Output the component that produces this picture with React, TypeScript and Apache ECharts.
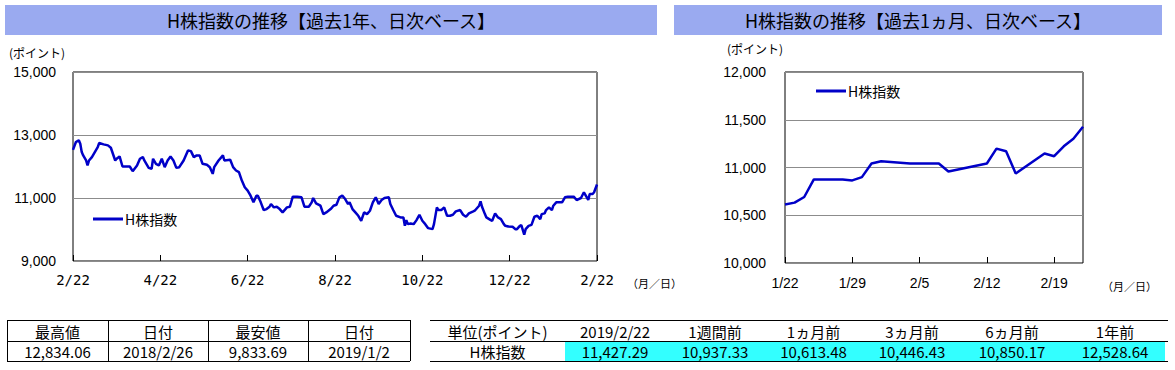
import { useEffect, useRef } from "react";
import * as echarts from "echarts";

// ---- data ----
const seriesName = "H株指数";
const titleYear = "H株指数の推移【過去1年、日次ベース】";
const titleMonth = "H株指数の推移【過去1ヵ月、日次ベース】";
const unitLabel = "(ポイント)";
const dateUnitLabel = "（月／日）";

// past year: day offset from 2018/2/22 (axis spans 0..360)
const yearDays = [0, 2, 4, 5, 6, 7, 9, 10, 11, 13, 15, 17, 18, 21, 24, 26, 29, 30, 32, 34, 37, 39, 41, 44, 46, 48, 49, 52, 54, 55, 57, 59, 61, 63, 65, 67, 69, 71, 73, 76, 79, 81, 83, 85, 87, 89, 92, 94, 96, 97, 100, 102, 103, 104, 108, 110, 112, 114, 116, 118, 120, 122, 124, 126, 127, 129, 131, 133, 135, 136, 138, 140, 142, 144, 147, 149, 151, 154, 157, 159, 162, 164, 165, 167, 170, 172, 174, 177, 179, 181, 183, 185, 187, 189, 190, 192, 194, 196, 198, 200, 202, 204, 206, 208, 210, 212, 214, 217, 218, 220, 222, 225, 227, 228, 229, 230, 232, 234, 236, 238, 240, 242, 244, 247, 248, 250, 251, 253, 255, 257, 259, 261, 263, 266, 268, 270, 272, 275, 276, 279, 280, 281, 283, 284, 287, 288, 290, 292, 294, 296, 297, 299, 302, 304, 305, 307, 308, 310, 311, 313, 315, 317, 319, 321, 322, 324, 325, 327, 329, 330, 332, 336, 338, 340, 344, 346, 349, 351, 353, 354, 355, 357, 358, 360];
const yearValues = [12529, 12777, 12834, 12723, 12457, 12351, 12191, 12032, 12191, 12298, 12457, 12617, 12745, 12702, 12670, 12596, 12191, 12245, 12319, 12000, 12000, 12000, 11851, 12032, 12245, 12298, 12191, 11957, 11926, 12245, 12085, 12032, 12245, 11979, 12191, 12319, 12191, 11957, 11979, 12191, 12511, 12489, 12298, 12351, 12351, 12085, 12053, 11979, 11766, 11979, 12191, 12298, 12351, 12191, 12213, 11979, 11872, 11819, 11553, 11340, 11234, 11075, 10862, 11075, 11075, 10862, 10617, 10649, 10723, 10809, 10702, 10723, 10649, 10543, 10702, 10723, 11043, 11043, 11021, 10723, 10723, 10862, 11000, 10830, 10755, 10489, 10543, 10649, 10755, 10787, 11021, 11075, 10968, 10809, 10862, 10649, 10543, 10436, 10277, 10543, 10489, 10596, 10862, 11021, 10809, 10936, 11000, 11021, 10809, 10620, 10436, 10383, 10383, 10117, 10298, 10170, 10191, 10170, 10298, 10468, 10277, 10170, 10043, 10011, 10170, 10702, 10617, 10617, 10702, 10436, 10436, 10468, 10574, 10617, 10468, 10404, 10511, 10574, 10596, 10755, 10894, 10723, 10489, 10383, 10298, 10277, 10511, 10383, 10330, 10170, 10117, 10096, 10085, 10011, 10011, 10117, 10138, 9834, 10011, 10117, 10149, 10404, 10436, 10330, 10489, 10511, 10617, 10702, 10617, 10755, 10862, 10862, 11021, 11043, 11043, 10936, 11000, 11181, 11021, 10936, 11128, 11128, 11181, 11427];
const yearTickLabels = ["2/22", "4/22", "6/22", "8/22", "10/22", "12/22", "2/22"];

// past month: calendar day offset from 2019/1/22 (axis spans 0..31)
const monthDays = [0, 1, 2, 3, 6, 7, 8, 9, 10, 13, 16, 17, 20, 21, 22, 23, 24, 27, 28, 29, 30, 31];
const monthValues = [10613, 10632, 10691, 10875, 10875, 10865, 10899, 11042, 11066, 11042, 11042, 10958, 11021, 11042, 11198, 11170, 10937, 11146, 11118, 11222, 11302, 11427];
const monthTickLabels = ["1/22", "1/29", "2/5", "2/12", "2/19"];

const extremesHeaders = ["最高値", "日付", "最安値", "日付"];
const extremesValues = ["12,834.06", "2018/2/26", "9,833.69", "2019/1/2"];
const compareHeaders = ["単位(ポイント)", "2019/2/22", "1週間前", "1ヵ月前", "3ヵ月前", "6ヵ月前", "1年前"];
const compareRowLabel = "H株指数";
const compareValues = [11427.29, 10937.33, 10613.48, 10446.43, 10850.17, 12528.64];

// ---- styling ----
const JP = "'Noto Sans CJK JP', sans-serif";
const ARIAL = "'Liberation Sans', Arial, sans-serif";
const LINE_COLOR = "#0000c8";
const BAR_COLOR = "#9aaaf0";

const fmt = (v: number) => v.toLocaleString("en-US", { minimumFractionDigits: 2, maximumFractionDigits: 2 });

function buildGraphics() {
  const g: any[] = [];
  // title bars
  g.push({ type: "rect", shape: { x: 5, y: 5, width: 652, height: 30 }, style: { fill: BAR_COLOR } });
  g.push({ type: "text", x: 331, y: 20, style: { text: titleYear, fontFamily: JP, fontSize: 18, fill: "#000", align: "center", verticalAlign: "middle" } });
  g.push({ type: "rect", shape: { x: 674, y: 5, width: 488, height: 30 }, style: { fill: BAR_COLOR } });
  g.push({ type: "text", x: 918, y: 20, style: { text: titleMonth, fontFamily: JP, fontSize: 18, fill: "#000", align: "center", verticalAlign: "middle" } });
  // unit labels
  g.push({ type: "text", x: 9, y: 52, style: { text: unitLabel, fontFamily: JP, fontSize: 12, fill: "#000", verticalAlign: "middle" } });
  g.push({ type: "text", x: 727, y: 48, style: { text: unitLabel, fontFamily: JP, fontSize: 12, fill: "#000", verticalAlign: "middle" } });
  g.push({ type: "text", x: 627, y: 283, style: { text: dateUnitLabel, fontFamily: JP, fontSize: 11, fill: "#000", verticalAlign: "middle" } });
  g.push({ type: "text", x: 1102, y: 286, style: { text: dateUnitLabel, fontFamily: JP, fontSize: 11, fill: "#000", verticalAlign: "middle" } });

  // left table
  const lEdges = [7, 108, 208, 308, 410];
  const rows = [320, 341, 361];
  rows.forEach((y) => g.push({ type: "line", shape: { x1: lEdges[0], y1: y + 0.5, x2: lEdges[lEdges.length - 1], y2: y + 0.5 }, style: { stroke: "#000", lineWidth: 1 } }));
  lEdges.forEach((x) => g.push({ type: "line", shape: { x1: x + 0.5, y1: rows[0], x2: x + 0.5, y2: rows[2] }, style: { stroke: "#000", lineWidth: 1 } }));
  extremesHeaders.forEach((t, i) => {
    const cx = (lEdges[i] + lEdges[i + 1]) / 2;
    g.push({ type: "text", x: cx, y: 331, style: { text: t, fontFamily: JP, fontSize: 15, lineHeight: 18, fill: "#000", align: "center", verticalAlign: "middle" } });
    g.push({ type: "text", x: cx, y: 351.5, style: { text: extremesValues[i], fontFamily: JP, fontSize: 15, lineHeight: 18, fill: "#000", align: "center", verticalAlign: "middle" } });
  });

  // right table
  const rEdges = [430, 565, 665, 765, 862, 962, 1062, 1168];
  g.push({ type: "rect", shape: { x: rEdges[1], y: 342, width: 1165 - rEdges[1], height: 19 }, style: { fill: "#33ffff" } });
  rows.forEach((y) => g.push({ type: "line", shape: { x1: rEdges[0], y1: y + 0.5, x2: rEdges[rEdges.length - 1], y2: y + 0.5 }, style: { stroke: "#000", lineWidth: 1 } }));
  compareHeaders.forEach((t, i) => {
    const cx = (rEdges[i] + rEdges[i + 1]) / 2;
    g.push({ type: "text", x: cx, y: 331, style: { text: t, fontFamily: JP, fontSize: 15, lineHeight: 18, fill: "#000", align: "center", verticalAlign: "middle" } });
    const v = i === 0 ? compareRowLabel : fmt(compareValues[i - 1]);
    g.push({ type: "text", x: cx, y: 351.5, style: { text: v, fontFamily: JP, fontSize: 15, lineHeight: 18, fill: "#000", align: "center", verticalAlign: "middle" } });
  });
  return g;
}

export default function App() {
  const ref = useRef<HTMLDivElement>(null);
  useEffect(() => {
    if (!ref.current) return;
    const chart = echarts.init(ref.current, null, { renderer: "svg" });
    const commonY = {
      type: "value",
      axisLine: { show: false },
      axisTick: { show: false },
      splitLine: { show: true, lineStyle: { color: "#8c8c8c", width: 1 } },
    };
    const tickFmt = (labels: string[], step: number) => (v: number) =>
      Math.abs(v / step - Math.round(v / step)) < 1e-6 ? labels[Math.round(v / step)] ?? "" : "";
    const option: any = {
      animation: false,
      backgroundColor: "#fff",
      grid: [
        { left: 73, top: 72, width: 524, height: 189, show: true, borderColor: "#000", borderWidth: 1, backgroundColor: "transparent" },
        { left: 785, top: 72, width: 298, height: 191, show: true, borderColor: "#000", borderWidth: 1, backgroundColor: "transparent" },
      ],
      xAxis: [
        {
          type: "value", gridIndex: 0, min: 0, max: 360, interval: 60,
          axisLine: { show: false }, splitLine: { show: false },
          axisTick: { show: true, inside: true, length: 6, lineStyle: { color: "#000" } },
          axisLabel: { formatter: tickFmt(yearTickLabels, 60), margin: 12, color: "#000", fontFamily: "'DejaVu Sans Mono', monospace", fontSize: 14 },
        },
        {
          type: "value", gridIndex: 1, min: 0, max: 31, interval: 7,
          axisLine: { show: false }, splitLine: { show: false },
          axisTick: { show: true, inside: true, length: 6, lineStyle: { color: "#000" } },
          axisLabel: { formatter: tickFmt(monthTickLabels, 7), showMaxLabel: false, margin: 13, color: "#000", fontFamily: ARIAL, fontSize: 14 },
        },
      ],
      yAxis: [
        { ...commonY, gridIndex: 0, min: 9000, max: 15000, interval: 2000, axisLabel: { formatter: (v: number) => v.toLocaleString("en-US"), margin: 17, color: "#000", fontFamily: ARIAL, fontSize: 14 } },
        { ...commonY, gridIndex: 1, min: 10000, max: 12000, interval: 500, axisLabel: { formatter: (v: number) => v.toLocaleString("en-US"), margin: 19, color: "#000", fontFamily: ARIAL, fontSize: 14 } },
      ],
      legend: [
        { data: [seriesName], left: 93, top: 212, padding: 0, icon: "rect", itemWidth: 30, itemHeight: 3, selectedMode: false, textStyle: { fontFamily: JP, fontSize: 14, color: "#000", padding: [0, 0, 0, -3] } },
        { data: [seriesName], left: 816, top: 84, padding: 0, icon: "rect", itemWidth: 30, itemHeight: 3, selectedMode: false, textStyle: { fontFamily: JP, fontSize: 14, color: "#000", padding: [0, 0, 0, -3] } },
      ],
      series: [
        {
          name: seriesName, type: "line", xAxisIndex: 0, yAxisIndex: 0, showSymbol: false,
          data: yearDays.map((d, i) => [d, yearValues[i]]),
          lineStyle: { color: LINE_COLOR, width: 2.5 }, itemStyle: { color: LINE_COLOR },
        },
        {
          name: seriesName, type: "line", xAxisIndex: 1, yAxisIndex: 1, showSymbol: false,
          data: monthDays.map((d, i) => [d, monthValues[i]]),
          lineStyle: { color: LINE_COLOR, width: 2.5 }, itemStyle: { color: LINE_COLOR },
        },
      ],
      graphic: buildGraphics(),
    };
    chart.setOption(option);
    return () => chart.dispose();
  }, []);
  return <div ref={ref} style={{ position: "absolute", left: 0, top: 0, width: 1175, height: 370 }} />;
}
